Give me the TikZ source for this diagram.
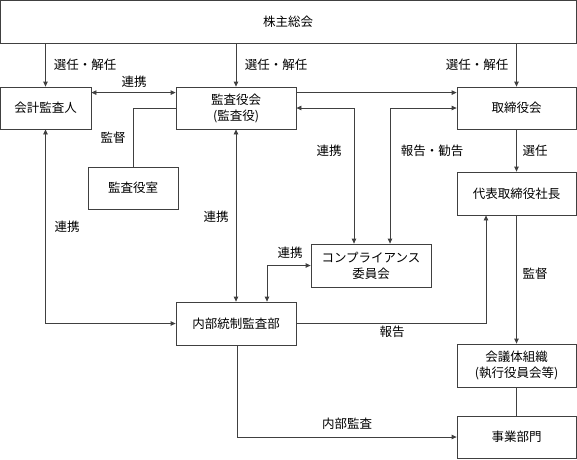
\documentclass[tikz,border=0pt]{standalone}
\usepackage{fontspec}
\setmainfont{Noto Sans CJK JP}
\usetikzlibrary{arrows.meta}
\definecolor{linec}{HTML}{404040}
\begin{document}
\begin{tikzpicture}[x=1pt,y=-1pt,
  font=\fontsize{12.5pt}{16pt}\selectfont,
  box/.style={draw=linec,line width=0.8pt,inner sep=0pt,align=center,text=black},
  conn/.style={draw=linec,line width=0.8pt},
  arr/.style={conn,-{Triangle[length=5pt,width=4.5pt]}},
  darr/.style={conn,{Triangle[length=5pt,width=4.5pt]}-{Triangle[length=5pt,width=4.5pt]}},
  lbl/.style={text=black,inner sep=0pt}]
\useasboundingbox (0,0) rectangle (577,459);
% boxes
\node[box,minimum width=576pt,minimum height=43pt] (kabu) at (288,21.5) {株主総会};
\node[box,minimum width=91pt,minimum height=42pt] (kaikei) at (45.5,108) {会計監査人};
\node[box,minimum width=120pt,minimum height=42pt] (kansa) at (236,108) {監査役会\\(監査役)};
\node[box,minimum width=119pt,minimum height=42pt] (tori) at (516.5,108) {取締役会};
\node[box,minimum width=90pt,minimum height=42pt] (shitsu) at (133,188) {監査役室};
\node[box,minimum width=119pt,minimum height=43pt] (daihyo) at (516.5,193.5) {代表取締役社長};
\node[box,minimum width=120pt,minimum height=43pt] (comp) at (371,265.5) {コンプライアンス\\委員会};
\node[box,minimum width=120pt,minimum height=43pt] (naibu) at (236,323.5) {内部統制監査部};
\node[box,minimum width=119pt,minimum height=43pt] (kaigi) at (516.5,365.5) {会議体組織\\(執行役員会等)};
\node[box,minimum width=119pt,minimum height=42pt] (jigyo) at (516.5,437) {事業部門};
% connectors
\draw[arr] (kaikei.north |- kabu.south) -- (kaikei.north);
\draw[arr] (kansa.north |- kabu.south) -- (kansa.north);
\draw[arr] (tori.north |- kabu.south) -- (tori.north);
\draw[darr] ([yshift=-6pt]kaikei.north east) -- ([yshift=-6pt]kansa.north west);
\draw[arr] ([yshift=-6pt]kansa.north east) -- ([yshift=-6pt]tori.north west);
\draw[conn] (kansa.west) -| (shitsu.north);
\draw[darr] (kansa.east) -| ([xshift=-17pt]comp.north);
\draw[darr] (tori.west) -| ([xshift=19pt]comp.north);
\draw[darr] (kansa.south) -- (naibu.north);
\draw[darr] (kaikei.south) |- (naibu.west);
\draw[darr] (comp.west) -| ([xshift=31pt]naibu.north);
\draw[arr] (naibu.east) -| ([xshift=-30.5pt]daihyo.south);
\draw[arr] (tori.south) -- (daihyo.north);
\draw[arr] (daihyo.south) -- (kaigi.north);
\draw[conn] (kaigi.south) -- (jigyo.north);
\draw[arr] ([xshift=1pt]naibu.south) |- (jigyo.west);
% labels
\node[lbl] (l1) at (85,65) {選任・解任};
\node[lbl] (l2) at (276,65) {選任・解任};
\node[lbl] (l3) at (477,65) {選任・解任};
\node[lbl] (l4) at (134,82) {連携};
\node[lbl] (l5) at (113,138) {監督};
\node[lbl] (l6) at (329,151) {連携};
\node[lbl] (l7) at (432,151) {報告・勧告};
\node[lbl] (l8) at (535,151) {選任};
\node[lbl] (l9) at (67,227) {連携};
\node[lbl] (l10) at (216,217) {連携};
\node[lbl] (l11) at (290,253) {連携};
\node[lbl] (l12) at (535,274) {監督};
\node[lbl] (l13) at (392,332) {報告};
\node[lbl] (l14) at (347,424) {内部監査};
\end{tikzpicture}
\end{document}
